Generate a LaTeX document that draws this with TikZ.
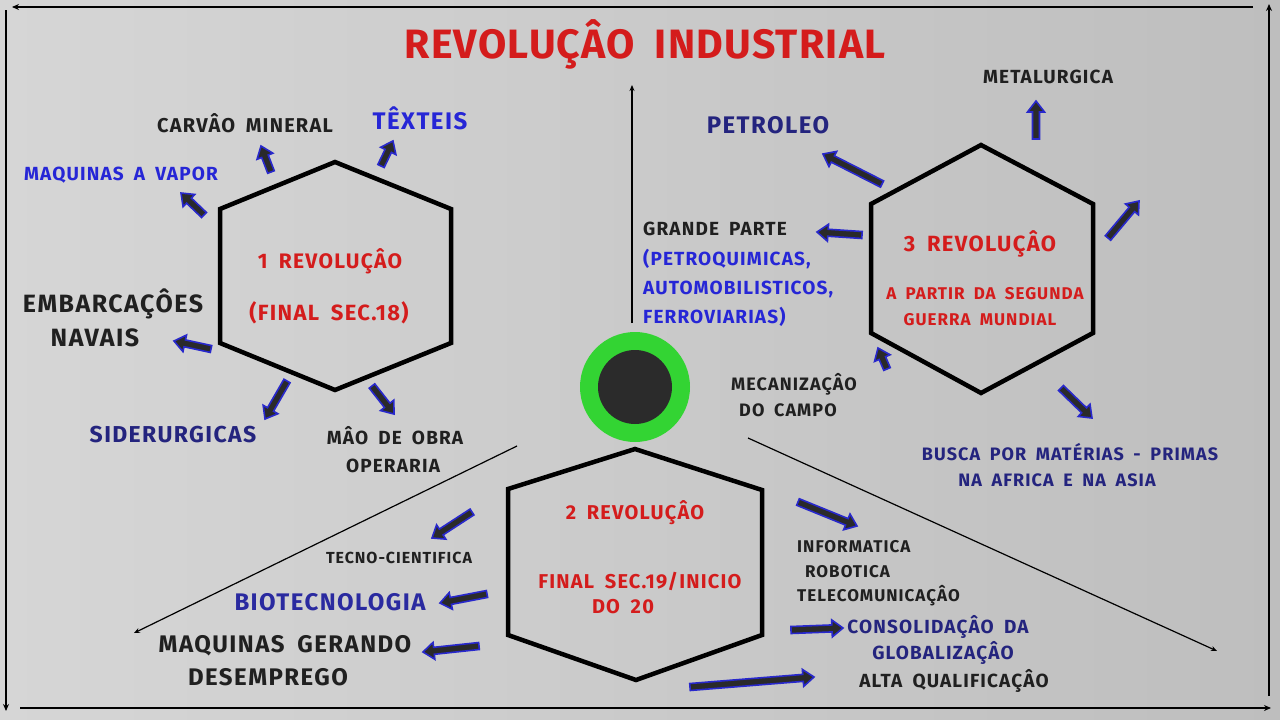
\documentclass[tikz,border=0pt]{standalone}
\usepackage{fontspec}
\newfontfamily\disp{Fira Sans Bold}[LetterSpace=6,WordSpace=1.8]
\newfontfamily\dispt{Fira Sans Bold}[LetterSpace=3,WordSpace=1.8]
\usetikzlibrary{calc,arrows.meta}
\definecolor{redt}{HTML}{D41C1C}
\definecolor{bluet}{HTML}{2626D6}
\definecolor{navyt}{HTML}{24247E}
\definecolor{biot}{HTML}{2A2AA0}
\definecolor{blkt}{HTML}{202020}
\definecolor{arrb}{HTML}{2828CC}
\definecolor{arrf}{HTML}{2A2A2A}
\definecolor{ringg}{HTML}{33D433}
\definecolor{coredk}{HTML}{2B2B2B}
\definecolor{bgl}{HTML}{D6D6D6}
\definecolor{bgr}{HTML}{BEBEBE}
\newcommand\fsz[1]{\fontsize{#1}{#1}\selectfont}
\newcommand\barrow[2]{%
  \path ($(#2)!11pt!(#1)$) coordinate (hb);
  \draw[barrowsty] ($(#1)!3.5pt!90:(#2)$) -- ($(hb)!3.5pt!90:(#2)$) -- ($(hb)!8.5pt!90:(#2)$) -- (#2)
    -- ($(hb)!8.5pt!-90:(#2)$) -- ($(hb)!3.5pt!-90:(#2)$) -- ($(#1)!3.5pt!-90:(#2)$) -- cycle;}
\begin{document}
\begin{tikzpicture}[x=1pt,y=-1pt,
  lbl/.style={font=\disp, inner sep=0pt, anchor=base},
  lblw/.style={font=\disp, inner sep=0pt, anchor=base west},
  hexsty/.style={draw=black, line width=4.5pt, line join=miter},
  framesty/.style={draw=black, line width=1.6pt, -{Stealth[length=7pt,width=6pt]}},
  thinsty/.style={draw=black, line width=1.2pt, -{Stealth[length=6pt,width=5pt]}},
  barrowsty/.style={draw=arrb, fill=arrf, line width=1.6pt, line join=miter}]
\useasboundingbox (0,0) rectangle (1280,720);
\fill[left color=bgl, right color=bgr] (0,0) rectangle (1280,720);

% frame
\coordinate (ftr) at (1253,7);
\coordinate (ftl) at (12,7);
\coordinate (fls) at (6,10);
\coordinate (fle) at (6,711);
\coordinate (fbs) at (20,708);
\coordinate (fbe) at (1271,708);
\coordinate (frs) at (1269,696);
\coordinate (fre) at (1269,4);
\draw[framesty] (ftr) -- (ftl);
\draw[framesty] (fls) -- (fle);
\draw[framesty] (fbs) -- (fbe);
\draw[framesty] (frs) -- (fre);

% center lines
\coordinate (vs) at (632,323);
\coordinate (ve) at (632,85);
\coordinate (dls) at (517,446);
\coordinate (dle) at (134,633);
\coordinate (drs) at (748,438);
\coordinate (dre) at (1217,651);
\draw[thinsty] (vs) -- (ve);
\draw[thinsty] (dls) -- (dle);
\draw[thinsty] (drs) -- (dre);

% core
\node[circle, fill=ringg, minimum size=110pt, inner sep=0pt] (ring) at (635,387) {};
\node[circle, fill=coredk, minimum size=74pt, inner sep=0pt] (core) at (ring.center) {};

% hexagons
\draw[hexsty] (335,162) -- (451,209) -- (451,343) -- (335,390) -- (220,343) -- (220,209) -- cycle;
\draw[hexsty] (981,145) -- (1093,204) -- (1093,333) -- (981,393) -- (871,333) -- (871,204) -- cycle;
\draw[hexsty] (635,449) -- (762,490) -- (762,635) -- (636,680) -- (508,635) -- (508,489) -- cycle;

% title
\node[lbl, text=redt, font=\dispt\fsz{41}] (title) at (645,58) {REVOLUÇÂO INDUSTRIAL};

% hexagon 1
\node[lbl, text=redt, font=\disp\fsz{21}] (h1a) at (330,268) {1 REVOLUÇÂO};
\node[lbl, text=redt, font=\disp\fsz{22}] (h1b) at (329,320) {(FINAL SEC.18)};
\node[lbl, text=blkt, font=\disp\fsz{20}] (carvao) at (245,132) {CARVÂO MINERAL};
\node[lbl, text=bluet, font=\disp\fsz{24}] (texteis) at (420,129) {TÊXTEIS};
\node[lbl, text=bluet, font=\disp\fsz{19}] (vapor) at (121,180) {MAQUINAS A VAPOR};
\node[lbl, text=blkt, font=\disp\fsz{25}] (embA) at (113,312) {EMBARCAÇÔES};
\node[lbl, text=blkt, font=\disp\fsz{25}] (embB) at (95,346) {NAVAIS};
\node[lbl, text=navyt, font=\disp\fsz{23}] (sider) at (173,442) {SIDERURGICAS};
\node[lbl, text=blkt, font=\disp\fsz{19}] (maoA) at (395,444) {MÂO DE OBRA};
\node[lbl, text=blkt, font=\disp\fsz{19}] (maoB) at (393,472) {OPERARIA};

% hexagon 3
\node[lbl, text=redt, font=\disp\fsz{22}] (h3a) at (980,251) {3 REVOLUÇÂO};
\node[lbl, text=redt, font=\disp\fsz{17}] (h3b) at (985,299) {A PARTIR DA SEGUNDA};
\node[lbl, text=redt, font=\disp\fsz{17}] (h3c) at (980,325) {GUERRA MUNDIAL};
\node[lbl, text=navyt, font=\disp\fsz{24}] (petro) at (768,133) {PETROLEO};
\node[lbl, text=blkt, font=\disp\fsz{19}] (metal) at (1048,83) {METALURGICA};
\node[lblw, text=blkt, font=\disp\fsz{19}] (grA) at (643,235) {GRANDE PARTE};
\node[lblw, text=bluet, font=\disp\fsz{19}] (grB) at (643,265) {(PETROQUIMICAS,};
\node[lblw, text=bluet, font=\disp\fsz{19}] (grC) at (643,294) {AUTOMOBILISTICOS,};
\node[lblw, text=bluet, font=\disp\fsz{19}] (grD) at (643,323) {FERROVIARIAS)};
\node[lbl, text=blkt, font=\disp\fsz{18}] (mecA) at (794,390) {MECANIZAÇÂO};
\node[lbl, text=blkt, font=\disp\fsz{18}] (mecB) at (788,416) {DO CAMPO};
\node[lbl, text=navyt, font=\disp\fsz{18}] (buscaA) at (1070,460) {BUSCA POR MATÉRIAS - PRIMAS};
\node[lbl, text=navyt, font=\disp\fsz{18}] (buscaB) at (1057,486) {NA AFRICA E NA ASIA};

% hexagon 2
\node[lbl, text=redt, font=\disp\fsz{20}] (h2a) at (635,519) {2 REVOLUÇÂO};
\node[lbl, text=redt, font=\disp\fsz{20}] (h2b) at (640,588) {FINAL SEC.19/INICIO};
\node[lbl, text=redt, font=\disp\fsz{20}] (h2c) at (623,613) {DO 20};
\node[lbl, text=blkt, font=\disp\fsz{16}] (tecno) at (399,563) {TECNO-CIENTIFICA};
\node[lbl, text=biot, font=\disp\fsz{24}] (bio) at (330,610) {BIOTECNOLOGIA};
\node[lbl, text=blkt, font=\disp\fsz{24}] (maqA) at (285,652) {MAQUINAS GERANDO};
\node[lbl, text=blkt, font=\disp\fsz{24}] (maqB) at (268,685) {DESEMPREGO};
\node[lblw, text=blkt, font=\disp\fsz{17}] (infA) at (797,552) {INFORMATICA};
\node[lblw, text=blkt, font=\disp\fsz{17}] (infB) at (805,577) {ROBOTICA};
\node[lblw, text=blkt, font=\disp\fsz{17}] (infC) at (797,601) {TELECOMUNICAÇÂO};
\node[lbl, text=navyt, font=\disp\fsz{19}] (consA) at (938,633) {CONSOLIDAÇÂO DA};
\node[lbl, text=navyt, font=\disp\fsz{19}] (consB) at (943,659) {GLOBALIZAÇÂO};
\node[lbl, text=blkt, font=\disp\fsz{19}] (alta) at (954,687) {ALTA QUALIFICAÇÂO};

% blue arrows
\coordinate (a1s) at (204,215); \coordinate (a1t) at (181,193);
\coordinate (a2s) at (271,172); \coordinate (a2t) at (261,146);
\coordinate (a3s) at (381,166); \coordinate (a3t) at (393,141);
\coordinate (a4s) at (211,349); \coordinate (a4t) at (174,341);
\coordinate (a5s) at (287,381); \coordinate (a5t) at (265,419);
\coordinate (a6s) at (372,386); \coordinate (a6t) at (394,414);
\coordinate (a7s) at (882,184); \coordinate (a7t) at (823,154);
\coordinate (a8s) at (1036,139); \coordinate (a8t) at (1036,101);
\coordinate (a9s) at (862,235); \coordinate (a9t) at (817,232);
\coordinate (a10s) at (1108,238); \coordinate (a10t) at (1139,201);
\coordinate (a11s) at (887,369); \coordinate (a11t) at (878,348);
\coordinate (a12s) at (1061,388); \coordinate (a12t) at (1092,418);
\coordinate (a13s) at (472,512); \coordinate (a13t) at (432,538);
\coordinate (a14s) at (487,594); \coordinate (a14t) at (440,603);
\coordinate (a15s) at (479,646); \coordinate (a15t) at (423,652);
\coordinate (a16s) at (798,502); \coordinate (a16t) at (857,526);
\coordinate (a17s) at (791,630); \coordinate (a17t) at (843,628);
\coordinate (a18s) at (690,687); \coordinate (a18t) at (814,677);
\barrow{a1s}{a1t}
\barrow{a2s}{a2t}
\barrow{a3s}{a3t}
\barrow{a4s}{a4t}
\barrow{a5s}{a5t}
\barrow{a6s}{a6t}
\barrow{a7s}{a7t}
\barrow{a8s}{a8t}
\barrow{a9s}{a9t}
\barrow{a10s}{a10t}
\barrow{a11s}{a11t}
\barrow{a12s}{a12t}
\barrow{a13s}{a13t}
\barrow{a14s}{a14t}
\barrow{a15s}{a15t}
\barrow{a16s}{a16t}
\barrow{a17s}{a17t}
\barrow{a18s}{a18t}
\end{tikzpicture}
\end{document}
